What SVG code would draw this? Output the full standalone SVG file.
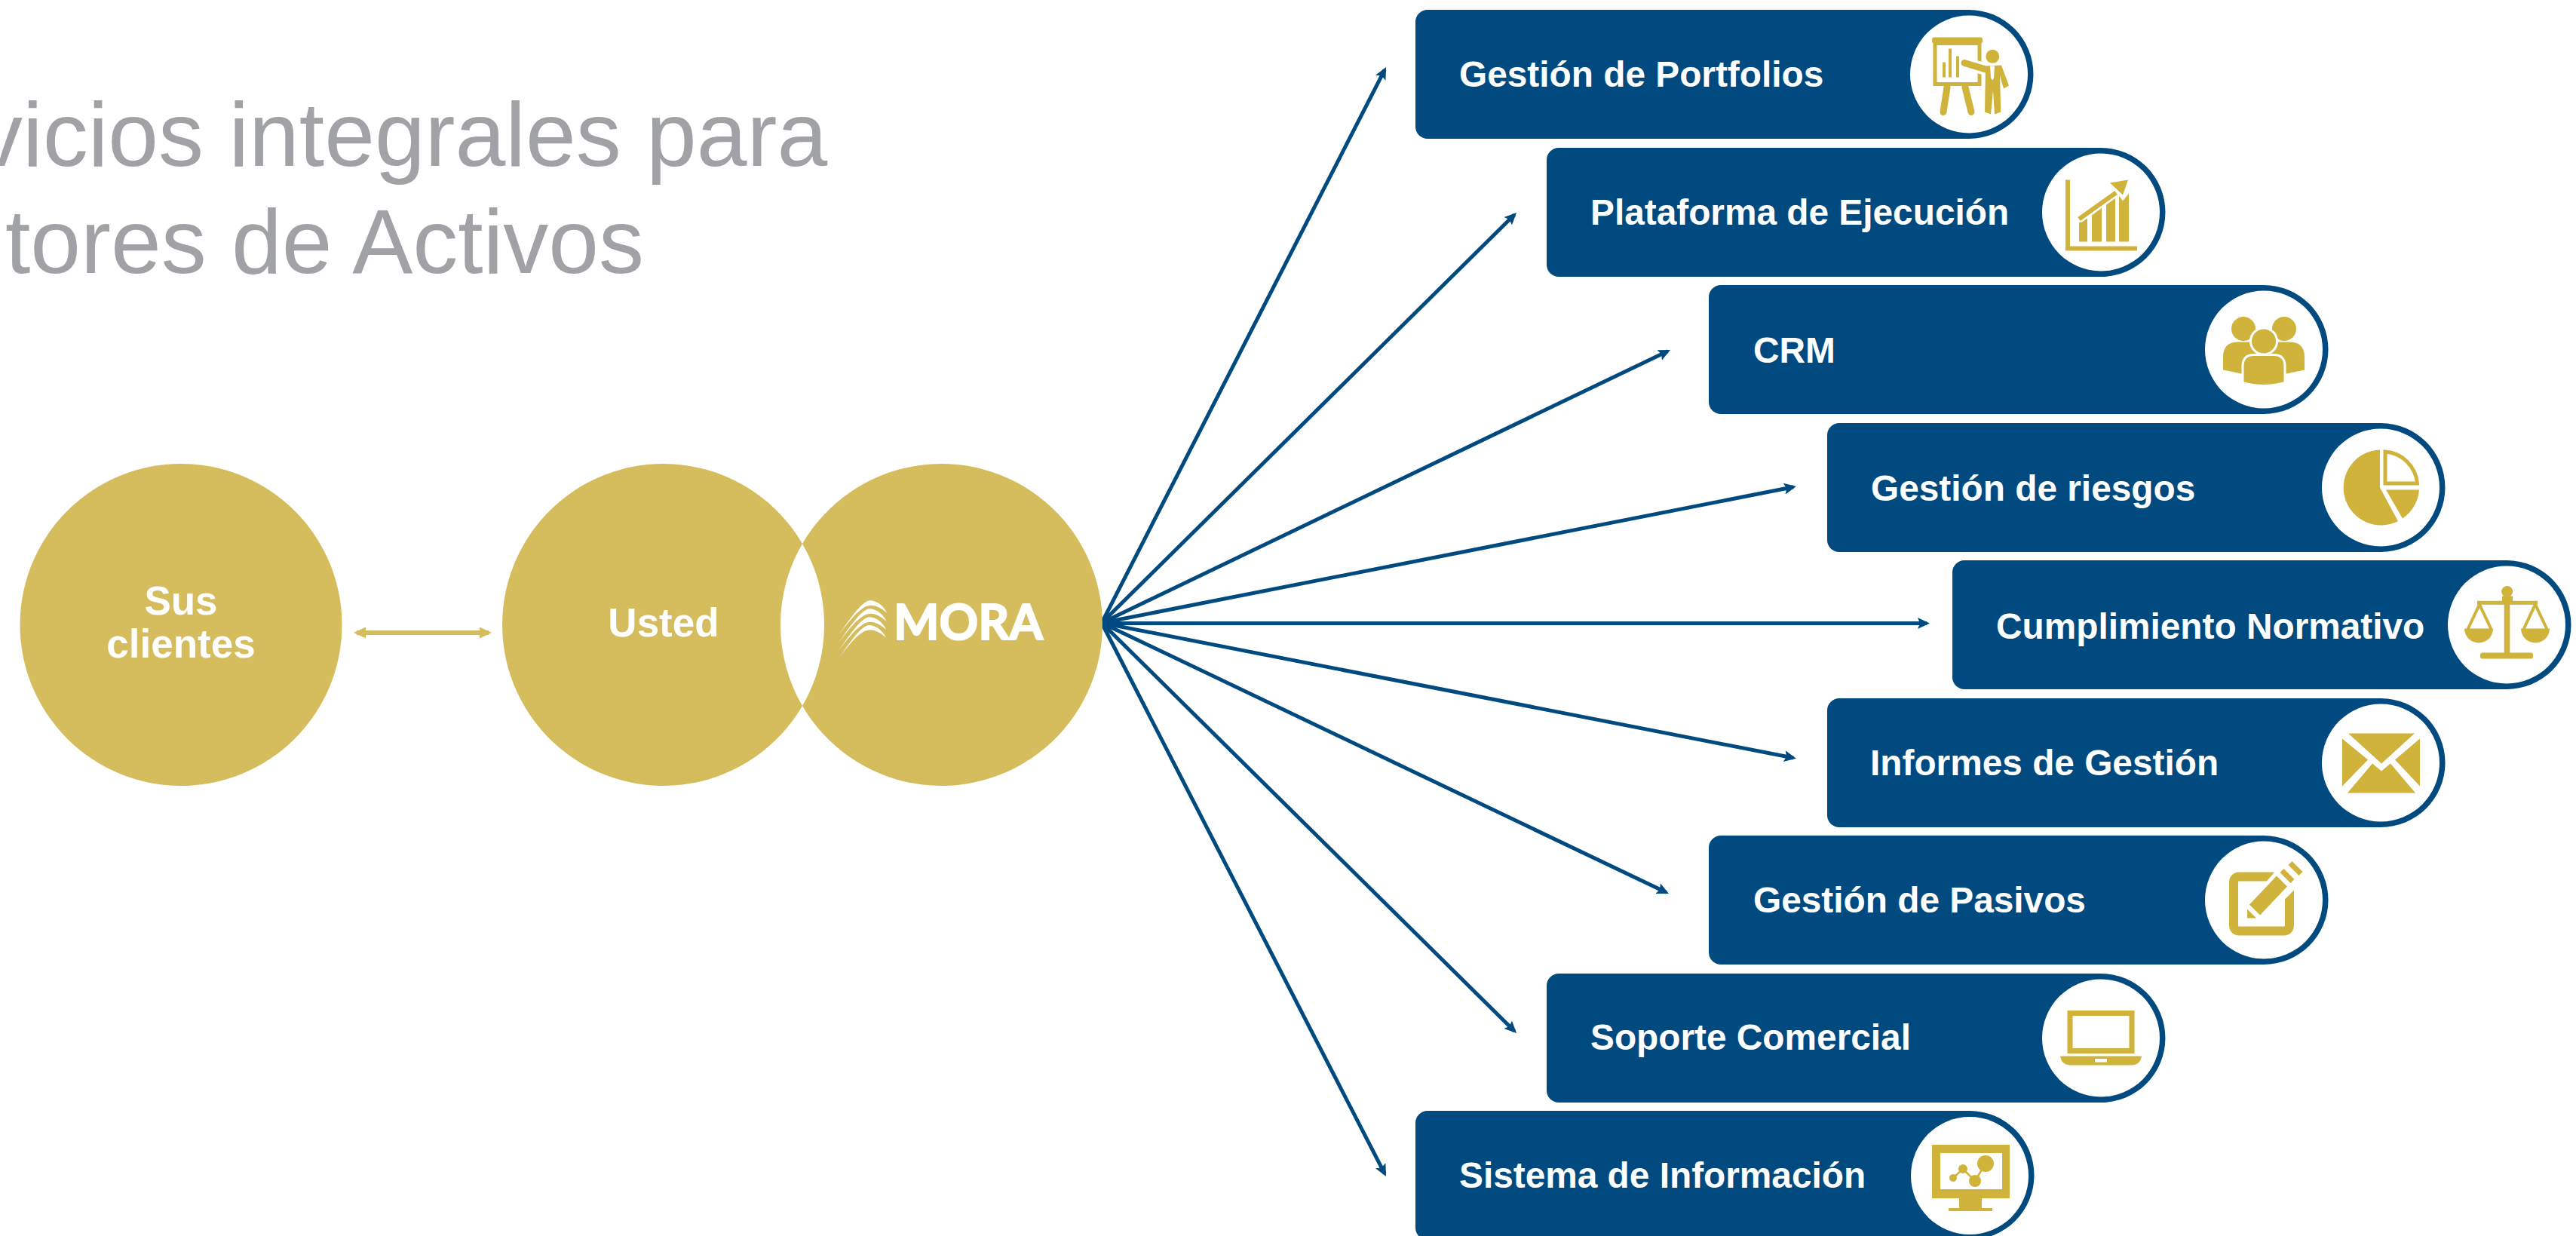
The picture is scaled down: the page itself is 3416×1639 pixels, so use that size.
<svg xmlns="http://www.w3.org/2000/svg" xmlns:xlink="http://www.w3.org/1999/xlink" width="3416" height="1639" viewBox="0 0 3416 1639">
<style>
.t{font-family:"Liberation Sans",Arial,sans-serif;font-weight:700;fill:#fff;font-size:47.8px}
.c{font-size:53px;text-anchor:middle}
.title{font-family:"Liberation Sans",Arial,sans-serif;font-size:120px;fill:#A0A2A5}
.pill{fill:#004A80}
.disc{fill:#fff}
.ic{fill:#CFB33A}
.is{fill:none;stroke:#CFB33A}
.w{fill:#fff}
.big{fill:#D5BD5E}
.b{stroke:#004A80;stroke-width:5;fill:none;marker-end:url(#ab)}
.g{stroke:#D5BD5E;stroke-width:6;fill:none;marker-start:url(#ags);marker-end:url(#age)}
</style>
<defs>
<marker id="ab" markerUnits="userSpaceOnUse" markerWidth="18" markerHeight="16" refX="12" refY="8" orient="auto"><path d="M0,0.5 L16,8 L0,15.5 L3,8Z" fill="#004A80"/></marker>
<marker id="age" markerUnits="userSpaceOnUse" markerWidth="18" markerHeight="16" refX="12" refY="8" orient="auto"><path d="M0,0.5 L16,8 L0,15.5Z" fill="#D5BD5E"/></marker>
<marker id="ags" markerUnits="userSpaceOnUse" markerWidth="18" markerHeight="16" refX="4" refY="8" orient="auto"><path d="M16,0.5 L0,8 L16,15.5Z" fill="#D5BD5E"/></marker>
<path id="swoosh" class="w" d="M95,248 C150,170 195,104 225,109 C255,112 277,135 288,158 C265,138 245,128 225,128 C190,128 150,175 95,248Z"/>
</defs>
<rect width="3416" height="1639" fill="#fff"/>
<text class="title" x="-30" y="220">vicios integrales para</text>
<text class="title" x="7" y="362">tores de Activos</text>

<g id="connectors">
<line class="g" x1="473" y1="839" x2="648" y2="839"/>
<line class="b" x1="1461" y1="826" x2="1836.2" y2="92.6"/>
<line class="b" x1="1461" y1="826" x2="2008.2" y2="284.8"/>
<line class="b" x1="1461" y1="826" x2="2211.4" y2="465.7"/>
<line class="b" x1="1461" y1="826" x2="2378" y2="645.8"/>
<line class="b" x1="1461" y1="826.5" x2="2555" y2="826.5"/>
<line class="b" x1="1461" y1="826" x2="2378" y2="1005"/>
<line class="b" x1="1461" y1="826" x2="2209.4" y2="1183.3"/>
<line class="b" x1="1461" y1="826" x2="2008.2" y2="1367.2"/>
<line class="b" x1="1461" y1="826" x2="1836.2" y2="1556.4"/>
</g>

<g id="sus-clientes">
<circle class="big" cx="240" cy="828.5" r="213.5"/>
<text class="t c" x="240" y="815">Sus</text>
<text class="t c" x="240" y="872">clientes</text>
</g>
<g id="usted">
<path class="big" d="M1064,721 A213.5,213.5 0 1 0 1064,936 A213.5,213.5 0 0 1 1064,721Z"/>
<text class="t c" x="880" y="844">Usted</text>
</g>
<g id="mora">
<path class="big" d="M1064,721 A213.5,213.5 0 1 1 1064,936 A213.5,213.5 0 0 0 1064,721Z"/>
<g transform="translate(1080,760) scale(.3333)">
<use xlink:href="#swoosh"/>
<use xlink:href="#swoosh" transform="translate(-2,33)"/>
<use xlink:href="#swoosh" transform="translate(-3,66)"/>
<use xlink:href="#swoosh" transform="translate(-4,98)"/>
</g>
<text x="1185" y="848" font-family="Lato,'Liberation Sans',sans-serif" font-weight="700" font-size="65" fill="#fff" stroke="#fff" stroke-width="2" textLength="198" lengthAdjust="spacingAndGlyphs">MORA</text>
</g>

<g id="n-portfolios">
<path class="pill" d="M1893,13 H2611 A85.5,85.5 0 0 1 2611,184 H1893 A16,16 0 0 1 1877,168 V29 A16,16 0 0 1 1893,13Z"/>
<circle class="disc" cx="2611" cy="98.5" r="78"/>
<text class="t" x="1935" y="115">Gestión de Portfolios</text>
<g transform="translate(2611,98.5)">
<rect class="ic" x="-49" y="-49" width="67" height="8" rx="3"/>
<rect class="is" x="-45" y="-41" width="59" height="54" stroke-width="5"/>
<path class="is" d="M-33,-16 V4 M-25,-34 V4 M-15,-24 V4" stroke-width="4"/>
<path class="is" d="M-29,17 L-34,50 M-5,17 L3,50" stroke-width="9" stroke-linecap="round"/>
<path d="M-6,-15 L24,-6" stroke="#fff" stroke-width="16" fill="none"/>
<path class="is" d="M-6,-15 L24,-6" stroke-width="9" stroke-linecap="round"/>
<circle class="ic" cx="31.3" cy="-23.7" r="9"/>
<path class="ic" d="M22,-11 L43,-12 L53,15 L46,19 L41,2 L42.3,50 L34,53 L32,22 L29,53 L21,50 Z"/>
<path class="w" d="M28,-11 L34,-11 L33,5 L31,8 L29,5Z"/>
</g>
</g>

<g id="n-ejecucion">
<path class="pill" d="M2067,196 H2786 A85.5,85.5 0 0 1 2786,367 H2067 A16,16 0 0 1 2051,351 V212 A16,16 0 0 1 2067,196Z"/>
<circle class="disc" cx="2786" cy="281.5" r="78"/>
<text class="t" x="2109" y="298">Plataforma de Ejecución</text>
<g transform="translate(2786,281.5)">
<path class="ic" d="M-47,-43 H-41 V45 H48 V51 H-47Z"/>
<path class="ic" d="M-29,14 L-18,8 V39 H-29Z M-12,4 L1,-6 V39 H-12Z M7,-10 L19,-19 V39 H7Z M24,-22 L29,-15 L37,-25 V39 H24Z"/>
<path d="M-29,9 L24,-29" stroke="#fff" stroke-width="11" fill="none"/>
<path class="is" d="M-29,9 L20,-26" stroke-width="6"/>
<path class="ic" d="M12,-39 L36,-43 L29,-23Z"/>
</g>
</g>

<g id="n-crm">
<path class="pill" d="M2282,378 H3002 A85.5,85.5 0 0 1 3002,549 H2282 A16,16 0 0 1 2266,533 V394 A16,16 0 0 1 2282,378Z"/>
<circle class="disc" cx="3002" cy="463.5" r="78"/>
<text class="t" x="2325" y="481">CRM</text>
<g transform="translate(3002,463.5)">
<circle class="ic" cx="-27" cy="-27.5" r="16"/>
<circle class="ic" cx="27" cy="-27.5" r="16"/>
<path class="ic" d="M-54,27 V10 Q-54,-10 -34,-10 H34 Q54,-10 54,10 V27 L30,32 H-30Z"/>
<circle class="ic" cx="0" cy="-11" r="17.5" stroke="#fff" stroke-width="3"/>
<path class="ic" d="M-28,44 V22 Q-28,7 -13,7 H13 Q28,7 28,22 V44 Q0,52 -28,44Z" stroke="#fff" stroke-width="3"/>
</g>
</g>

<g id="n-riesgos">
<path class="pill" d="M2439,561 H3157 A85.5,85.5 0 0 1 3157,732 H2439 A16,16 0 0 1 2423,716 V577 A16,16 0 0 1 2439,561Z"/>
<circle class="disc" cx="3157" cy="646.5" r="78"/>
<text class="t" x="2481" y="664">Gestión de riesgos</text>
<g transform="translate(3157,646.5)">
<path class="ic" d="M-1,-50 A50,50 0 1 0 23,44.7 L-1,0Z"/>
<path class="ic" d="M7,3 H51 A50,50 0 0 1 29,41Z"/>
<path class="is" d="M6,-5.5 V-47.5 A46,46 0 0 1 48.5,-5.5Z" stroke-width="5"/>
</g>
</g>

<g id="n-cumplimiento">
<path class="pill" d="M2605,743 H3324 A85.5,85.5 0 0 1 3324,914 H2605 A16,16 0 0 1 2589,898 V759 A16,16 0 0 1 2605,743Z"/>
<circle class="disc" cx="3324" cy="828.5" r="78"/>
<text class="t" x="2647" y="847">Cumplimiento Normativo</text>
<g transform="translate(3324,828.5)">
<circle class="ic" cx="0.7" cy="-44" r="7.5"/>
<rect class="ic" x="-6" y="-38" width="14" height="10"/>
<rect class="ic" x="-39" y="-31.7" width="80" height="5"/>
<rect class="ic" x="-3.3" y="-28" width="7.6" height="66"/>
<rect class="ic" x="-35" y="37" width="70" height="8" rx="3"/>
<path class="is" d="M-52,7 L-36,-27 L-20,7 M22,7 L38,-27 L54,7" stroke-width="4"/>
<path class="ic" d="M-56,5 H-18 A19,19 0 0 1 -56,5Z M19,5 H57 A19,19 0 0 1 19,5Z"/>
</g>
</g>

<g id="n-informes">
<path class="pill" d="M2439,926 H3157 A85.5,85.5 0 0 1 3157,1097 H2439 A16,16 0 0 1 2423,1081 V942 A16,16 0 0 1 2439,926Z"/>
<circle class="disc" cx="3157" cy="1011.5" r="78"/>
<text class="t" x="2480" y="1028">Informes de Gestión</text>
<g transform="translate(3157,1011.5)">
<path class="ic" d="M-43,-39 H45 L1,1Z"/>
<path class="ic" d="M-51,-32 L-17,-4 L-51,31Z M52,-32 L19,-4 L52,31Z"/>
<path class="ic" d="M-44,40 L-11,1 L1,11 L13,1 L46,40Z"/>
</g>
</g>

<g id="n-pasivos">
<path class="pill" d="M2282,1108 H3002 A85.5,85.5 0 0 1 3002,1279 H2282 A16,16 0 0 1 2266,1263 V1124 A16,16 0 0 1 2282,1108Z"/>
<circle class="disc" cx="3002" cy="1193.5" r="78"/>
<text class="t" x="2325" y="1210">Gestión de Pasivos</text>
<g transform="translate(3002,1193.5)">
<rect class="is" x="-40" y="-31" width="74" height="72" rx="7" stroke-width="12"/>
<path class="w" d="M15,-38 H42 V-15 L0,27 L-24,27 V8Z"/>
<path class="ic" d="M-19,6 L17,-32 L31,-18 L-5,20Z"/>
<path class="ic" d="M-22,12 L-10,24 L-22,24Z"/>
<path class="ic" d="M21.5,-36.5 L26.5,-41.5 L40.5,-27.5 L35.5,-22.5Z"/>
<path class="ic" d="M32.5,-46.5 L37.5,-51.5 L51.5,-37.5 L46.5,-32.5Z"/>
</g>
</g>

<g id="n-comercial">
<path class="pill" d="M2067,1291 H2786 A85.5,85.5 0 0 1 2786,1462 H2067 A16,16 0 0 1 2051,1446 V1307 A16,16 0 0 1 2067,1291Z"/>
<circle class="disc" cx="2786" cy="1376.5" r="78"/>
<text class="t" x="2109" y="1392">Soporte Comercial</text>
<g transform="translate(2786,1376.5)">
<rect class="is" x="-41" y="-33" width="82" height="50" stroke-width="7"/>
<path class="ic" d="M-54,24 H54 Q52,36 40,36 H-40 Q-52,36 -54,24Z"/>
<rect class="w" x="-8" y="27.5" width="16" height="4.5"/>
</g>
</g>

<g id="n-informacion">
<path class="pill" d="M1893,1473 H2612 A85.5,85.5 0 0 1 2612,1644 H1893 A16,16 0 0 1 1877,1628 V1489 A16,16 0 0 1 1893,1473Z"/>
<circle class="disc" cx="2612" cy="1559" r="78"/>
<text class="t" x="1935" y="1575">Sistema de Información</text>
<g transform="translate(2613,1559)">
<path class="ic" fill-rule="evenodd" d="M-51,-41 H52 V30 H-51Z M-40,-30 V18 H42 V-30Z"/>
<rect class="ic" x="-15" y="30" width="30" height="14"/>
<rect class="ic" x="-29" y="43" width="58" height="4"/>
<path class="is" d="M-23,3 L-10,-9 L6,7 L20,-16" stroke-width="2.5"/>
<circle class="ic" cx="-23" cy="3" r="5"/>
<circle class="ic" cx="-10" cy="-9" r="6"/>
<circle class="ic" cx="6" cy="7" r="8"/>
<circle class="ic" cx="20" cy="-16" r="11"/>
</g>
</g>
</svg>
